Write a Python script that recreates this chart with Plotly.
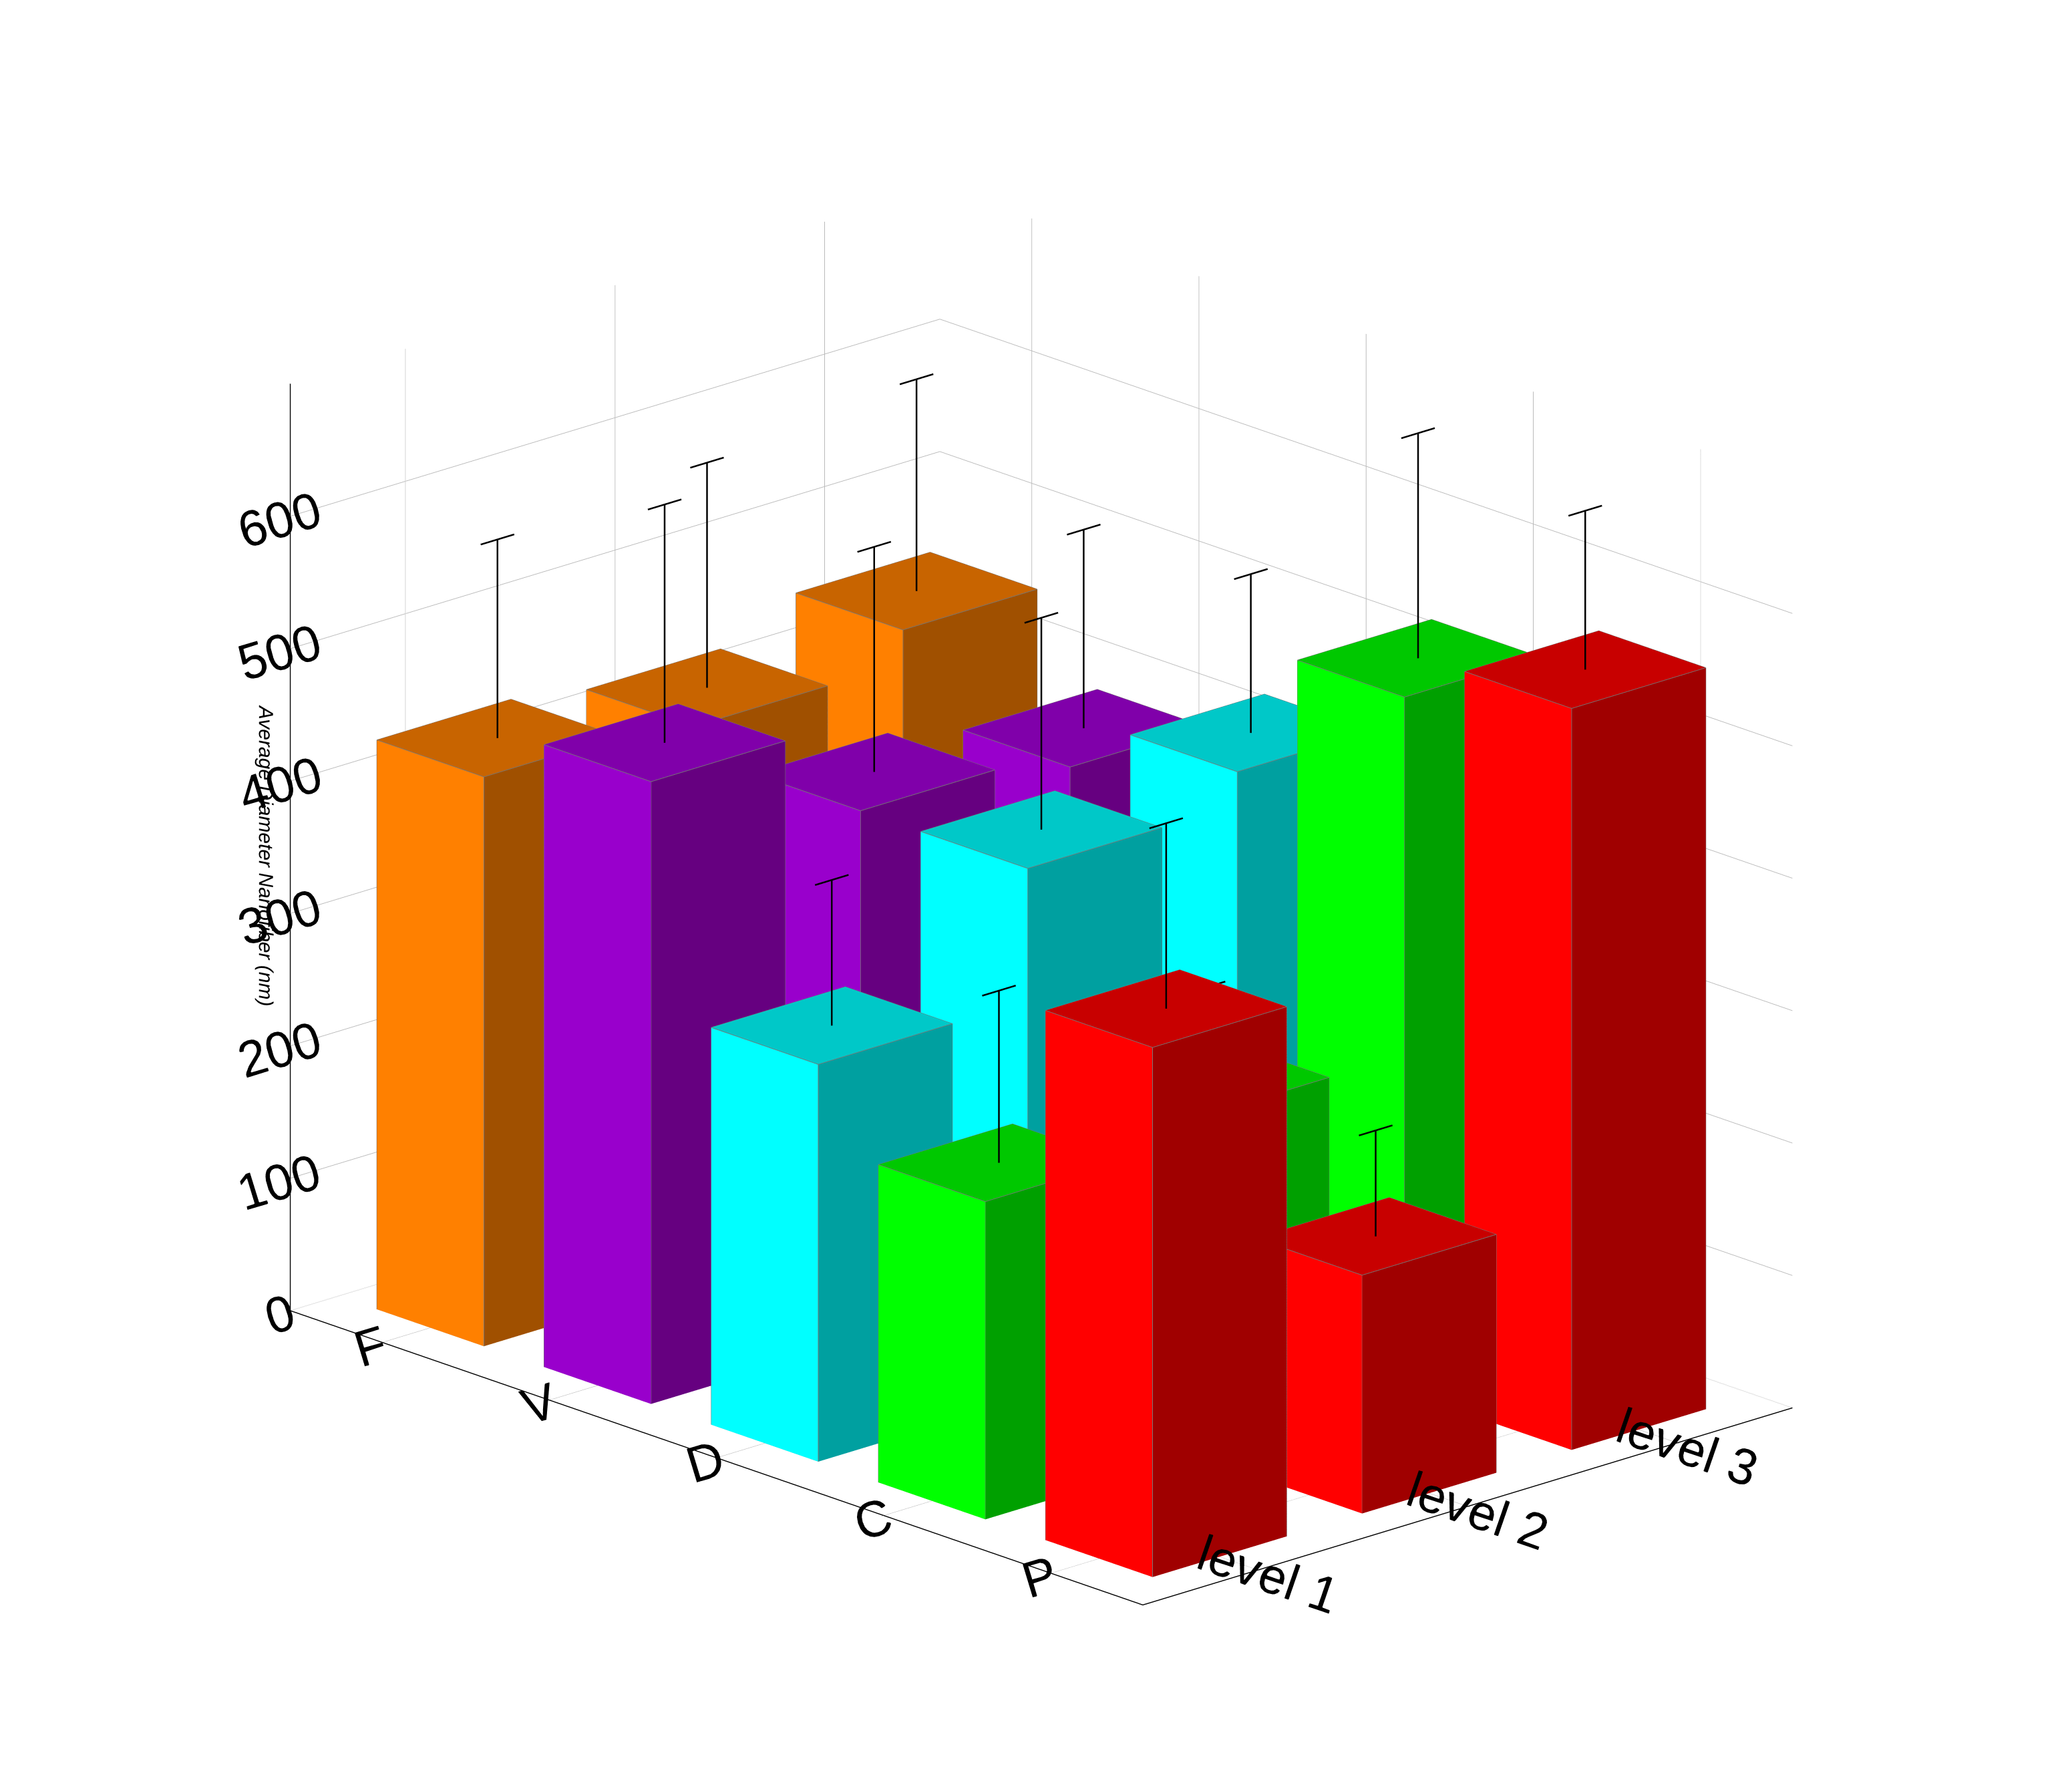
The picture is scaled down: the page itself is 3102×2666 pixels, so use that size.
import plotly.graph_objects as go

categories = ["F", "V", "D", "C", "P"]
levels = ["level 1", "level 2", "level 3"]
# mean diameter (nm) per category, per level
means = {
    "F": [430, 420, 445],
    "V": [470, 400, 385],
    "D": [300, 400, 425],
    "C": [240, 255, 525],
    "P": [400, 180, 560],
}
errors = {
    "F": [150, 170, 160],
    "V": [180, 170, 150],
    "D": [110, 160, 120],
    "C": [130, 70, 170],
    "P": [140, 80, 120],
}
colors = {
    "F": ("#ff8000", "#c86400", "#a05000"),
    "V": ("#9900cc", "#8000aa", "#660080"),
    "D": ("#00ffff", "#00c8c8", "#00a0a0"),
    "C": ("#00ff00", "#00c800", "#00a000"),
    "P": ("#ff0000", "#c80000", "#a00000"),
}

w = 0.32
fig = go.Figure()
for ci, cat in enumerate(categories):
    yc = len(categories) - 1 - ci
    for li in range(len(levels)):
        h = means[cat][li]
        x0, x1, y0, y1 = li - w, li + w, yc - w, yc + w
        xs = [x0, x1, x1, x0, x0, x1, x1, x0]
        ys = [y0, y0, y1, y1, y0, y0, y1, y1]
        zs = [0, 0, 0, 0, h, h, h, h]
        tri = [
            (4, 5, 6), (4, 6, 7),   # top
            (0, 3, 7), (0, 7, 4),   # -x face
            (0, 1, 5), (0, 5, 4),   # -y face
            (1, 2, 6), (1, 6, 5),
            (3, 2, 6), (3, 6, 7),
            (0, 1, 2), (0, 2, 3),
        ]
        bright, mid, dark = colors[cat]
        fc = [mid, mid, bright, bright, dark, dark, dark, dark, mid, mid, dark, dark]
        fig.add_trace(go.Mesh3d(
            x=xs, y=ys, z=zs,
            i=[t[0] for t in tri], j=[t[1] for t in tri], k=[t[2] for t in tri],
            facecolor=fc, flatshading=True,
            lighting=dict(ambient=1, diffuse=0, specular=0, fresnel=0),
            hoverinfo="skip", showscale=False,
        ))
        # edges
        ex = [x0, x1, x1, x0, x0, None, x0, x0, None, x1, x1, None, x1, x1, None, x0, x0]
        ey = [y0, y0, y1, y1, y0, None, y0, y0, None, y0, y0, None, y1, y1, None, y1, y1]
        ez = [h, h, h, h, h, None, 0, h, None, 0, h, None, 0, h, None, 0, h]
        fig.add_trace(go.Scatter3d(x=ex, y=ey, z=ez, mode="lines",
                                   line=dict(color="#777777", width=2),
                                   showlegend=False, hoverinfo="skip"))
        # error bar with cap
        e = h + errors[cat][li]
        c = 0.08
        fig.add_trace(go.Scatter3d(
            x=[li, li, None, li - c, li + c],
            y=[yc, yc, None, yc, yc],
            z=[h, e, None, e, e],
            mode="lines", line=dict(color="black", width=5),
            showlegend=False, hoverinfo="skip"))

font = dict(family="Liberation Sans", size=30, color="black")
axis_common = dict(showbackground=False, gridcolor="#bbbbbb", showline=True,
                   linecolor="black", linewidth=3, tickfont=font, ticks="outside")
fig.update_layout(
    width=3102, height=2666,
    paper_bgcolor="white",
    showlegend=False,
    margin=dict(l=0, r=0, t=0, b=0),
    scene=dict(
        xaxis=dict(axis_common, title="", tickvals=[0, 1, 2], ticktext=levels,
                   range=[-0.55, 2.55]),
        yaxis=dict(axis_common, title="", tickvals=[4, 3, 2, 1, 0], ticktext=categories,
                   range=[-0.55, 4.55]),
        zaxis=dict(axis_common, title=dict(text="<i>Average Diameter Nanofiber (nm)</i>", font=font),
                   range=[0, 700], tickvals=[0, 100, 200, 300, 400, 500, 600]),
        aspectmode="manual", aspectratio=dict(x=1.0, y=1.4, z=1.1),
        camera=dict(eye=dict(x=-1.5, y=-1.6, z=0.75), projection=dict(type="orthographic")),
    ),
)
fig.write_html("out.html")
